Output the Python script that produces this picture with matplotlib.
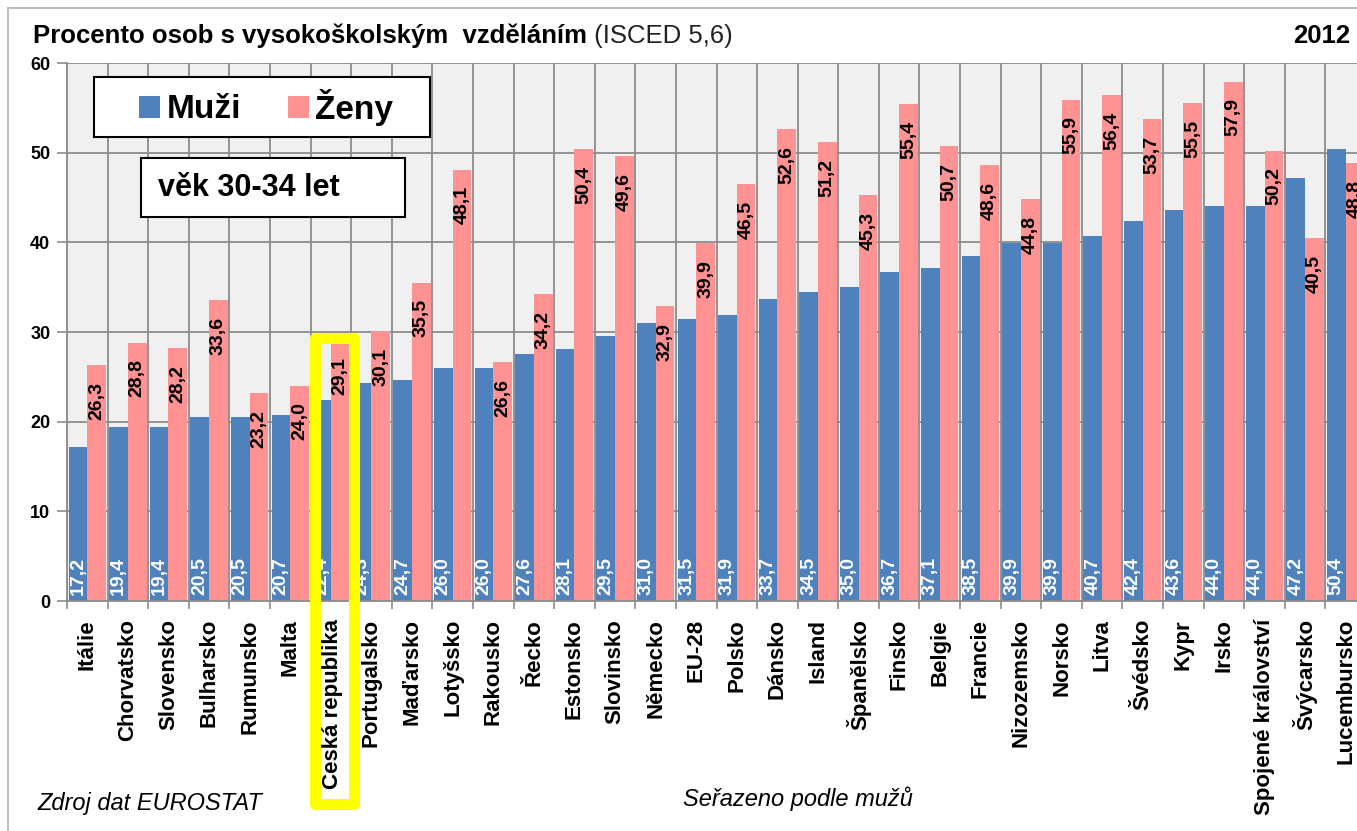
import numpy as np
import matplotlib
matplotlib.use("Agg")
import matplotlib.pyplot as plt
from matplotlib.patches import Rectangle
from matplotlib import transforms

plt.rcParams["font.family"] = ["Liberation Sans", "DejaVu Sans"]

# data (2012, age 30-34, sorted by men)
countries = ["Itálie", "Chorvatsko", "Slovensko", "Bulharsko", "Rumunsko", "Malta",
             "Česká republika", "Portugalsko", "Maďarsko", "Lotyšsko", "Rakousko", "Řecko",
             "Estonsko", "Slovinsko", "Německo", "EU-28", "Polsko", "Dánsko", "Island",
             "Španělsko", "Finsko", "Belgie", "Francie", "Nizozemsko", "Norsko", "Litva",
             "Švédsko", "Kypr", "Irsko", "Spojené království", "Švýcarsko", "Lucembursko"]
muzi = [17.2, 19.4, 19.4, 20.5, 20.5, 20.7, 22.4, 24.3, 24.7, 26.0, 26.0, 27.6,
        28.1, 29.5, 31.0, 31.5, 31.9, 33.7, 34.5, 35.0, 36.7, 37.1, 38.5, 39.9,
        39.9, 40.7, 42.4, 43.6, 44.0, 44.0, 47.2, 50.4]
zeny = [26.3, 28.8, 28.2, 33.6, 23.2, 24.0, 29.1, 30.1, 35.5, 48.1, 26.6, 34.2,
        50.4, 49.6, 32.9, 39.9, 46.5, 52.6, 51.2, 45.3, 55.4, 50.7, 48.6, 44.8,
        55.9, 56.4, 53.7, 55.5, 57.9, 50.2, 40.5, 48.8]
highlight = "Česká republika"

BLUE = "#4F81BD"
PINK = "#FF9393"
GRID = "#8C8C8C"
W, H = 1357, 831


def fx(px):
    return px / W


def fy(py):
    return 1 - py / H


def fmt(v):
    return f"{v:.1f}".replace(".", ",")


fig = plt.figure(figsize=(W / 100, H / 100), dpi=100)
ax = fig.add_axes([fx(67), fy(601), (1366 - 67) / W, (601 - 63) / H])
ax.set_facecolor("#F0F0F0")

x = np.arange(len(countries))
bw = 0.46
b1 = ax.bar(x - bw / 2, muzi, bw, color=BLUE, label="Muži", zorder=2)
b2 = ax.bar(x + bw / 2, zeny, bw, color=PINK, label="Ženy", zorder=2)

# value labels: men at the bar base, women just under the bar top
for xi, v in zip(x, muzi):
    ax.annotate(fmt(v), (xi - bw / 2, 0), xytext=(0, 4), textcoords="offset points",
                rotation=90, ha="center", va="bottom", color="white",
                fontsize=14, fontweight="bold", zorder=3)
for xi, v in zip(x, zeny):
    ax.annotate(fmt(v), (xi + bw / 2, v), xytext=(0, -12), textcoords="offset points",
                rotation=90, ha="center", va="top", color="black",
                fontsize=14, fontweight="bold", zorder=3)

ax.set_xlim(-0.5, len(countries) - 0.5)
ax.set_ylim(0, 60)
ax.set_yticks(np.arange(0, 61, 10))
ax.set_xticks(np.arange(-0.5, len(countries), 1))
ax.set_xticklabels([])
ax.set_xticks(x, minor=True)
ax.set_xticklabels(countries, minor=True, rotation=90, va="top", ha="center",
                   fontsize=16, fontweight="bold")
ax.tick_params(axis="x", which="minor", length=0, pad=13)
ax.tick_params(axis="x", which="major", length=6, color=GRID, width=1.2)
ax.tick_params(axis="y", length=7, color=GRID, width=1.2, pad=5, labelsize=13)
for lab in ax.get_yticklabels():
    lab.set_fontweight("bold")

ax.set_axisbelow(True)
ax.grid(True, which="major", color=GRID, linewidth=1.3)
for s in ["top", "right"]:
    ax.spines[s].set_visible(False)
for s in ["left", "bottom"]:
    ax.spines[s].set_color(GRID)
    ax.spines[s].set_linewidth(1.3)

# outer frame
fig.add_artist(Rectangle((fx(8), fy(845)), fx(1420 - 8), (845 - 8) / H,
                         transform=fig.transFigure, fill=False,
                         edgecolor="#BFBFBF", linewidth=1.5))

# title
t1 = fig.text(fx(33), fy(43), "Procento osob s vysokoškolským  vzděláním",
              fontsize=18.5, fontweight="bold", va="baseline")
ax.annotate(" (ISCED 5,6)", xy=(1, 0), xycoords=t1, va="bottom", ha="left",
            fontsize=18.5, color="#222222", annotation_clip=False)
fig.text(fx(1350), fy(43), "2012", fontsize=18.5, fontweight="bold",
         ha="right", va="baseline")

# legend box
fig.add_artist(Rectangle((fx(94), fy(137)), (430 - 94) / W, (137 - 77) / H,
                         transform=fig.transFigure, facecolor="white",
                         edgecolor="black", linewidth=1.5, zorder=4))
fig.legend(handles=[b1, b2], loc="center", bbox_to_anchor=(fx(266), fy(107)),
           ncol=2, frameon=False, prop={"size": 24, "weight": "bold"},
           handlelength=0.63, handleheight=0.63, handletextpad=0.2,
           columnspacing=1.4, borderpad=0)

# age box
fig.add_artist(Rectangle((fx(141), fy(217)), (405 - 141) / W, (217 - 158) / H,
                         transform=fig.transFigure, facecolor="white",
                         edgecolor="black", linewidth=1.5, zorder=4))
fig.text(fx(158), fy(188), "věk 30-34 let", fontsize=22, fontweight="bold",
         va="center", ha="left", zorder=5)

# highlight Czech Republic
cz = countries.index(highlight)
tr = transforms.blended_transform_factory(ax.transData, fig.transFigure)
fig.add_artist(Rectangle((cz - 0.38, fy(804)), 0.96, (804 - 338) / H, transform=tr,
                         fill=False, edgecolor="#FFFF00", linewidth=8,
                         joinstyle="round", zorder=4))

fig.text(fx(37), fy(810), "Zdroj dat EUROSTAT", fontsize=17, style="italic")
fig.text(fx(683), fy(806), "Seřazeno podle mužů", fontsize=17, style="italic")

fig.savefig("out.png", dpi=100)
